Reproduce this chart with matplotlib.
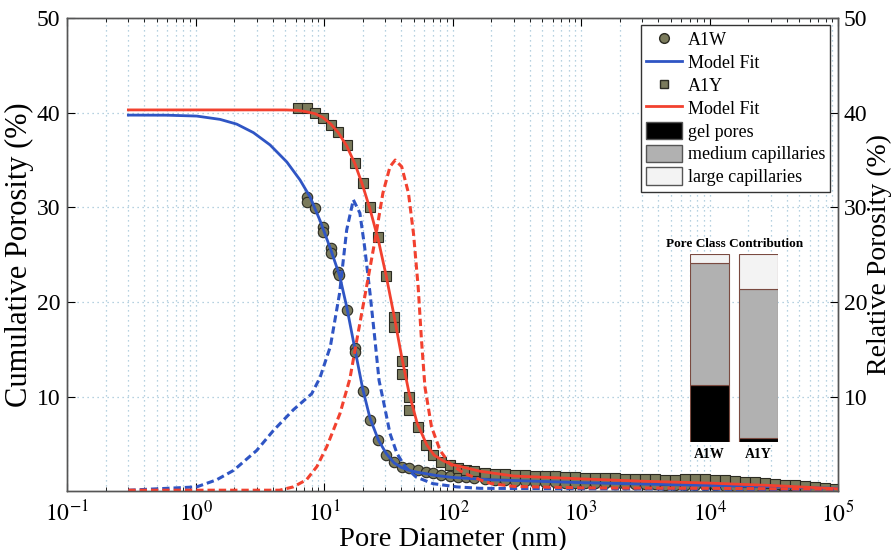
import matplotlib
matplotlib.use("Agg")
import matplotlib.pyplot as plt
from matplotlib.lines import Line2D
from matplotlib.patches import Patch

plt.rcParams['font.family'] = ['Liberation Serif', 'DejaVu Serif']
plt.rcParams['mathtext.fontset'] = 'stix'

# ---- measured data (pore diameter in nm, porosity in %) ----
d_a1w = [7.33, 7.36, 8.51, 9.77, 9.8, 11.3, 11.35, 12.9, 13.0, 15.0, 17.4, 17.45,
         20.0, 22.8, 26.5, 30.4, 35.0, 40.2, 46.1, 53.9, 62.6, 71.0, 82.0, 95.0,
         110, 128, 148, 179, 214, 256, 306, 367, 438, 525, 628, 750, 898, 1074,
         1285, 1538, 1841, 2198, 2630, 3148, 3767, 4508, 5395, 6442, 7709, 9226,
         11040, 13210, 15780, 18880, 22590, 27040, 32360, 38730, 46240, 55340,
         66220, 79250, 94840]
cum_a1w = [31.1, 30.6, 29.9, 27.9, 27.4, 25.7, 25.2, 23.2, 22.8, 19.1, 15.1, 14.7,
           10.6, 7.5, 5.4, 3.8, 3.1, 2.6, 2.4, 2.2, 2.0, 1.9, 1.7, 1.6,
           1.5, 1.45, 1.38, 1.3, 1.22, 1.15, 1.1, 1.05, 1.0, 0.97, 0.94, 0.91, 0.88, 0.86,
           0.84, 0.82, 0.8, 0.78, 0.76, 0.74, 0.72, 0.7, 0.68, 0.66, 0.64, 0.62,
           0.6, 0.58, 0.55, 0.52, 0.5, 0.47, 0.44, 0.4, 0.36, 0.32,
           0.28, 0.22, 0.15]

d_a1y = [6.31, 7.33, 8.51, 9.77, 11.3, 12.9, 15.0, 17.4, 20.0, 22.8, 26.5, 30.4,
         35.0, 35.1, 40.2, 40.3, 46.1, 46.2, 53.9, 62.6, 71.0, 82.0, 95.0,
         110, 128, 148, 179, 214, 256, 306, 367, 438, 525, 628, 750, 898, 1074,
         1285, 1538, 1841, 2198, 2630, 3148, 3767, 4508, 5395, 6442, 7709, 9226,
         11040, 13210, 15780, 18880, 22590, 27040, 32360, 38730, 46240, 55340,
         66220, 79250, 94840]
cum_a1y = [40.5, 40.5, 40.0, 39.4, 38.7, 38.0, 36.6, 34.7, 32.6, 30.0, 26.9, 22.7,
           18.4, 17.3, 13.8, 12.4, 10.0, 8.6, 6.8, 4.9, 3.8, 3.1, 2.75,
           2.4, 2.2, 2.1, 1.95, 1.85, 1.78, 1.72, 1.68, 1.64, 1.6, 1.55, 1.5, 1.47, 1.44,
           1.41, 1.38, 1.35, 1.32, 1.3, 1.27, 1.24, 1.2, 1.15, 1.3, 1.28, 1.25,
           1.2, 1.15, 1.1, 1.02, 0.95, 0.88, 0.8, 0.7, 0.6, 0.5,
           0.42, 0.32, 0.2]

# model fits (cumulative, left axis)
fit_w_d = [0.3, 0.6, 1.02, 1.55, 2.09, 2.82, 3.8, 5.13, 6.5, 7.78, 9.31, 11.3, 13.2,
           15.0, 17.4, 20.0, 22.8, 26.5, 30.4, 35.0, 40.0, 46.0, 53.0, 62.0, 75.0,
           100, 200, 1000, 10000, 100000]
fit_w_cum = [39.75, 39.74, 39.65, 39.3, 38.8, 37.9, 36.6, 34.8, 32.9, 31.1, 28.6, 25.5, 22.8,
             19.5, 15.0, 10.8, 7.7, 5.4, 4.0, 3.0, 2.5, 2.2, 2.0, 1.85, 1.65,
             1.45, 1.2, 0.9, 0.6, 0.3]
fit_y_d = [0.3, 1.0, 5.0, 6.3, 7.3, 8.5, 9.8, 11.3, 12.9, 15.0, 17.4, 20.0, 22.8, 26.5,
           30.4, 35.0, 40.2, 46.0, 53.0, 63.0, 72.0, 85.0, 100, 164, 300, 1000, 3000,
           10000, 30000, 100000]
fit_y_cum = [40.3, 40.3, 40.3, 40.25, 40.1, 39.9, 39.5, 38.8, 37.9, 36.5, 34.6, 32.3, 29.8, 26.5,
             22.8, 18.6, 14.2, 10.3, 7.2, 4.9, 3.8, 3.2, 2.8, 2.1, 1.6, 1.3, 1.05,
             0.85, 0.6, 0.25]

# model fits (relative, right axis)
rel_w_d = [0.3, 1.02, 1.46, 1.98, 2.99, 4.03, 5.77, 8.02, 9.3, 11.2, 13.2, 15.0, 16.9,
           19.0, 20.7, 22.8, 24.9, 26.8, 28.9, 32.6, 36.9, 42.6, 52.0, 70.0, 108, 164,
           1000, 10000, 100000]
rel_w = [0.1, 0.45, 1.2, 2.2, 4.3, 6.4, 8.6, 10.3, 12.0, 15.3, 20.9, 27.6, 30.8,
         29.4, 25.8, 20.9, 16.0, 11.7, 9.6, 6.1, 4.0, 2.6, 1.5, 0.8, 0.45, 0.3,
         0.25, 0.2, 0.1]
rel_y_d = [0.3, 4.5, 5.77, 7.3, 8.8, 10.5, 13.3, 15.9, 18.0, 20.7, 24.9, 28.7, 32.6, 35.8,
           40.2, 45.4, 49.7, 54.0, 57.3, 61.0, 68.6, 80.0, 95.0, 123, 164, 200, 300,
           1000, 10000, 100000]
rel_y = [0.1, 0.1, 0.45, 1.2, 2.6, 4.7, 8.2, 11.9, 16.0, 20.5, 26.5, 31.5, 34.3, 35.0,
         34.3, 31.5, 27.2, 21.6, 16.0, 11.0, 6.8, 4.3, 2.9, 1.9, 1.2, 0.8, 0.5,
         0.35, 0.3, 0.2]

# pore class contribution (%)
samples = ['A1W', 'A1Y']
gel = [30.5, 2.1]
medium = [64.7, 79.5]
large = [4.8, 18.4]

xtick_vals = [0.1, 1, 10, 100, 1000, 10000, 100000]
xtick_labels = ['$10^{-1}$', '$10^{0}$', '$10^{1}$', '$10^{2}$', '$10^{3}$', '$10^{4}$', '$10^{5}$']
ytick_vals = [10, 20, 30, 40, 50]

blue = '#2f55c4'
red = '#f2412f'
mface = '#7b7b5c'
grid_c = '#9fc2d6'

fig = plt.figure(figsize=(8.94, 5.5), dpi=100)
ax = fig.add_axes([0.075, 0.107, 0.8624, 0.86])
ax.set_xscale('log')
ax.set_xlim(0.1, 1e5)
ax.set_ylim(0, 50)

ax.plot(d_a1w, cum_a1w, 'o', ms=7.5, mfc=mface, mec='#2b2b22', mew=0.8, zorder=3)
ax.plot(d_a1y, cum_a1y, 's', ms=6.5, mfc=mface, mec='#2b2b22', mew=0.8, zorder=3)
ax.plot(fit_w_d, fit_w_cum, '-', color=blue, lw=2.0, zorder=4)
ax.plot(fit_y_d, fit_y_cum, '-', color=red, lw=2.0, zorder=4)

ax2 = ax.twinx()
ax2.set_ylim(0, 50)
ax2.plot(rel_w_d, rel_w, '--', color=blue, lw=2.2, dashes=(2.4, 1.3))
ax2.plot(rel_y_d, rel_y, '--', color=red, lw=2.2, dashes=(2.4, 1.3))

ax.grid(True, which='both', axis='x', ls=(0, (1, 3)), color=grid_c, lw=0.9)
ax.grid(True, which='major', axis='y', ls=(0, (1, 3)), color=grid_c, lw=0.9)
ax.set_xticks(xtick_vals)
ax.set_xticklabels(xtick_labels, fontsize=17)
ax.set_yticks(ytick_vals)
ax2.set_yticks(ytick_vals)
ax.tick_params(axis='y', labelsize=17, direction='in', length=6, right=False, pad=5)
ax2.tick_params(axis='y', labelsize=17, direction='in', length=6, pad=4)
ax.tick_params(axis='x', which='major', direction='in', length=6, top=True, pad=7)
ax.tick_params(axis='x', which='minor', direction='in', length=3, top=True)
ax.set_xlabel('Pore Diameter (nm)', fontsize=20.5, labelpad=0)
ax.set_ylabel('Cumulative Porosity (%)', fontsize=22, labelpad=2)
ax2.set_ylabel('Relative Porosity (%)', fontsize=20, labelpad=0)
for a in (ax, ax2):
    for s in a.spines.values():
        s.set_color('#555555')
        s.set_linewidth(1.0)

handles = [
    Line2D([], [], ls='none', marker='o', ms=7, mfc=mface, mec='#2b2b22'),
    Line2D([], [], color=blue, lw=2),
    Line2D([], [], ls='none', marker='s', ms=6, mfc=mface, mec='#2b2b22'),
    Line2D([], [], color=red, lw=2),
    Patch(facecolor='black', edgecolor='#555555'),
    Patch(facecolor='#b1b1b1', edgecolor='#555555'),
    Patch(facecolor='#f3f3f3', edgecolor='#555555'),
]
labels = ['A1W', 'Model Fit', 'A1Y', 'Model Fit', 'gel pores', 'medium capillaries', 'large capillaries']
leg = ax2.legend(handles, labels, loc='upper right', bbox_to_anchor=(0.99, 0.985),
                 fontsize=13, frameon=True, fancybox=False, framealpha=1,
                 edgecolor='#333333', handlelength=2.0, handleheight=1.1, handletextpad=0.3,
                 labelspacing=0.22, borderpad=0.3, borderaxespad=0)
leg.get_frame().set_linewidth(1.0)

# inset: pore class contribution
axi = fig.add_axes([0.772, 0.196, 0.0984, 0.342])
axi.patch.set_alpha(0)
pos = [0, 1]
edge = '#7a4a40'
axi.bar(pos, gel, width=0.8, color='black', edgecolor=edge, lw=0.8)
axi.bar(pos, medium, width=0.8, bottom=gel, color='#b1b1b1', edgecolor=edge, lw=0.8)
bott = [g + m for g, m in zip(gel, medium)]
axi.bar(pos, large, width=0.8, bottom=bott, color='#f3f3f3', edgecolor=edge, lw=0.8)
axi.set_xlim(-0.4, 1.4)
axi.set_ylim(0, 100)
axi.set_yticks([])
axi.set_xticks(pos)
axi.set_xticklabels(samples, fontsize=10, fontweight='bold')
axi.tick_params(axis='x', length=0, pad=4)
for s in axi.spines.values():
    s.set_visible(False)
axi.set_title('Pore Class Contribution', fontsize=9.5, fontweight='bold', pad=5)

fig.savefig('out.png', dpi=100)
